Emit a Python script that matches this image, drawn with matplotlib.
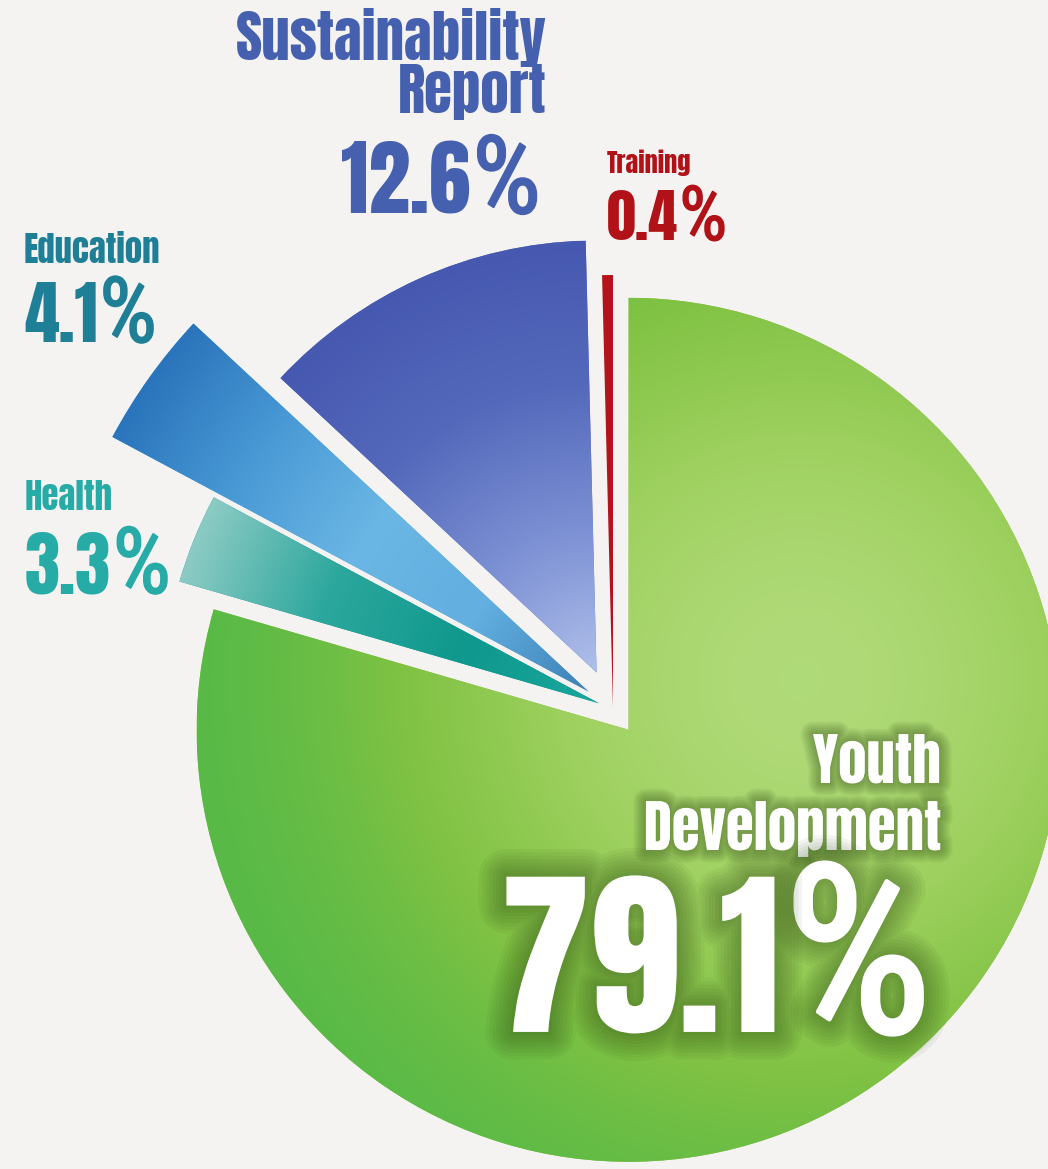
import matplotlib
matplotlib.use("Agg")
import matplotlib.pyplot as plt
import matplotlib.patheffects as pe
from matplotlib.colors import LinearSegmentedColormap
import numpy as np

W, H = 1048, 1169

# spending split, in pie order (counter-clockwise from 12 o'clock)
labels = ["Training", "Sustainability\nReport", "Education", "Health", "Youth\nDevelopment"]
shares = [0.4, 12.6, 4.1, 3.3, 79.1]

# slice styling
base_colors = ["#b5121b", "#5f74c4", "#5aaee0", "#139a90", "#8cc641"]
explode = [1, 40, 30, 15, 26]
radii = [433, 432, 540, 437, 432]
text_colors = ["#b01218", "#4560ae", "#1f7f96", "#26aba6", "white"]

HEAVY = ["Anton", "Oswald", "Roboto Condensed", "DejaVu Sans"]
THIN = ["Roboto Condensed", "League Gothic", "Liberation Sans", "DejaVu Sans"]
BG = "#f4f3f1"

fig = plt.figure(figsize=(W / 100, H / 100), dpi=100)
fig.patch.set_facecolor(BG)
ax = fig.add_axes([0, 0, 1, 1])
ax.set_facecolor(BG)

wedges, _ = ax.pie(shares, explode=explode, colors=base_colors, startangle=90,
                   counterclock=True, radius=432, center=(613, H - 709),
                   wedgeprops=dict(linewidth=0))
for w, r in zip(wedges, radii):
    w.set_radius(r)


def shade(wedge, cmap, spot=None, sigma=None):
    # paint a gradient inside the wedge (radial from its tip, or around a spot)
    cx, cy = wedge.center
    r = wedge.r
    x0, x1 = max(cx - r, 0), min(cx + r, W)
    y0, y1 = max(cy - r, 0), min(cy + r, H)
    X, Y = np.meshgrid(np.arange(x0, x1, 2.0), np.arange(y0, y1, 2.0))
    if spot is None:
        t = np.hypot(X - cx, Y - cy) / r
    else:
        t = 1 - np.exp(-((X - spot[0]) ** 2 + (Y - spot[1]) ** 2) / (2 * sigma ** 2))
    im = ax.imshow(cmap(np.clip(t, 0, 1)), extent=(x0, x1, y0, y1), origin="lower",
                   interpolation="bilinear", zorder=wedge.get_zorder() + 0.1)
    im.set_clip_path(wedge)


shade(wedges[1], LinearSegmentedColormap.from_list("sr", ["#b0c0ea", "#7c90d4", "#5469bb", "#4658b0"]))
shade(wedges[2], LinearSegmentedColormap.from_list("ed", ["#3d80b6", "#62afe0", "#6ab6e4", "#4a9ad6", "#2a74bb"]))
shade(wedges[3], LinearSegmentedColormap.from_list("he", ["#19a79d", "#0f988d", "#2ca79d", "#8ccbc4"]))
shade(wedges[4], LinearSegmentedColormap.from_list("yd", ["#b0da78", "#9dd05e", "#80c243", "#4cb748"]),
      spot=(800, H - 680), sigma=270)

# fix the frame before measuring any text
ax.set_xlim(0, W)
ax.set_ylim(0, H)
ax.set_aspect("equal")
ax.axis("off")

renderer = fig.canvas.get_renderer()


def glow(width, layers=8):
    # soft dark halo: many faint strokes stacked from wide to narrow
    shadow = "#284210"
    fx = [pe.Stroke(linewidth=width * (k + 1) / layers, foreground=shadow, alpha=0.055)
          for k in reversed(range(layers))]
    return fx + [pe.Normal()]


def label_block(i, x, ha, baselines, size, value_base, value_size, effects=None, effects_big=None):
    color = text_colors[i]
    for line, yb in zip(labels[i].split("\n"), baselines):
        ax.text(x[0], H - yb, line, ha=ha, va="baseline", fontsize=size, color=color,
                family=HEAVY, path_effects=effects, zorder=10)
    num = f"{shares[i]:.1f}"
    kw = dict(va="baseline", color=color, zorder=10)
    gap = value_size * 0.03
    pct_size = value_size * 1.3
    # thicken the light percent sign a little
    pct_fx = (effects_big[:-1] if effects_big else []) + \
        [pe.Stroke(linewidth=value_size * 0.025, foreground=color), pe.Normal()]
    if ha == "left":
        t = ax.text(x[1], H - value_base, num, ha="left", fontsize=value_size, family=HEAVY,
                    path_effects=effects_big, **kw)
        bb = t.get_window_extent(renderer).transformed(ax.transData.inverted())
        ax.text(bb.x1 + gap, H - value_base, "%", ha="left", fontsize=pct_size,
                family=THIN, path_effects=pct_fx, **kw)
    else:
        t = ax.text(x[1], H - value_base, "%", ha="right", fontsize=pct_size,
                    family=THIN, path_effects=pct_fx, **kw)
        bb = t.get_window_extent(renderer).transformed(ax.transData.inverted())
        ax.text(bb.x0 - gap, H - value_base, num, ha="right", fontsize=value_size,
                family=HEAVY, path_effects=effects_big, **kw)


label_block(0, (607, 607), "left", [173], 19, 240, 42)
label_block(1, (547, 541), "right", [60, 113], 41, 213, 60)
label_block(2, (24, 24), "left", [263], 25, 342, 50.5)
label_block(3, (25, 25), "left", [510], 25, 593, 51)
label_block(4, (941, 932), "right", [783, 850], 41, 1032, 130,
            effects=glow(18), effects_big=glow(40))

plt.savefig("out.png", dpi=100, facecolor=BG)
plt.close()
